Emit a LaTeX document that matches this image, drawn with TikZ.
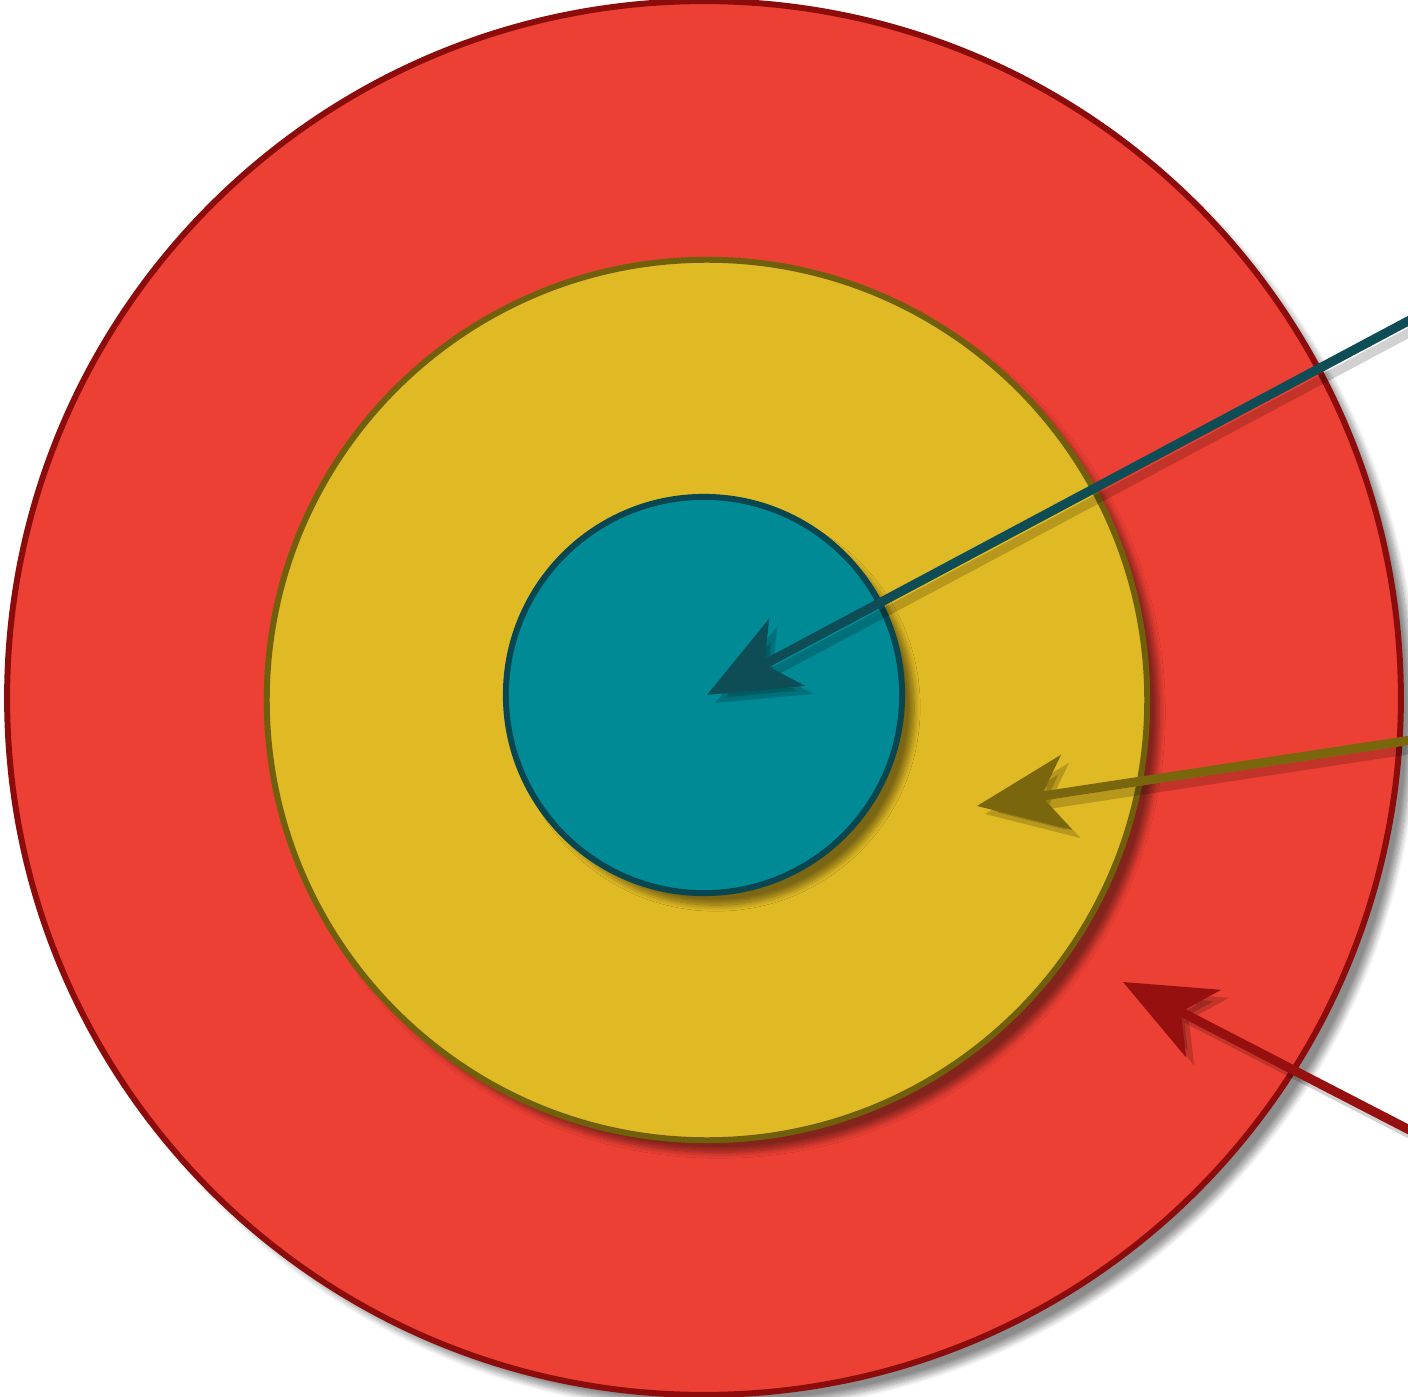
\documentclass[tikz,border=0pt]{standalone}
\usepackage{xcolor}
\usetikzlibrary{arrows.meta,shadows.blur}
\definecolor{ringred}{RGB}{237,64,52}
\definecolor{ringredline}{RGB}{140,12,12}
\definecolor{ringyellow}{RGB}{224,186,36}
\definecolor{ringyellowline}{RGB}{112,96,12}
\definecolor{ringteal}{RGB}{0,138,150}
\definecolor{ringtealline}{RGB}{10,70,80}
\definecolor{arrowteal}{RGB}{14,76,86}
\definecolor{arrowyellow}{RGB}{122,102,12}
\definecolor{arrowred}{RGB}{150,16,16}
\tikzset{
  ring/.style={circle, line width=1.7pt, inner sep=0pt,
               blur shadow={shadow xshift=1.2mm, shadow yshift=-1.2mm,
                            shadow blur steps=10, shadow opacity=45}},
  redring/.style={ring, draw=ringredline, fill=ringred, minimum size=13.93cm},
  yellowring/.style={ring, draw=ringyellowline, fill=ringyellow, minimum size=8.8cm},
  tealring/.style={ring, draw=ringtealline, fill=ringteal, minimum size=3.96cm},
  pointer/.style={-{Stealth[length=9mm, width=7.5mm, inset=2.5mm]}, line width=2.6pt,
                  preaction={draw=black, line width=2.6pt, opacity=0.18,
                             transform canvas={shift={(0.8mm,-0.8mm)}}}}
}

\begin{document}
\begin{tikzpicture}[x=0.01cm, y=-0.01cm]
  \useasboundingbox (0,0) rectangle (1408,1397);
  \clip (0,0) rectangle (1408,1397);
  % rings
  \node[redring] (outer) at (704,698) {};
  \node[yellowring] (middle) at (707,700) {};
  \node[tealring] (inner) at (704,695) {};
  % arrow ends
  \coordinate (tealfrom) at (1425,312);
  \coordinate (tealto) at (707,695);
  \coordinate (yellowfrom) at (1425,738);
  \coordinate (yellowto) at (977,806);
  \coordinate (redfrom) at (1425,1138);
  \coordinate (redto) at (1123,982);
  % pointers
  \draw[pointer, arrowteal] (tealfrom) -- (tealto);
  \draw[pointer, arrowyellow] (yellowfrom) -- (yellowto);
  \draw[pointer, arrowred] (redfrom) -- (redto);
\end{tikzpicture}
\end{document}
